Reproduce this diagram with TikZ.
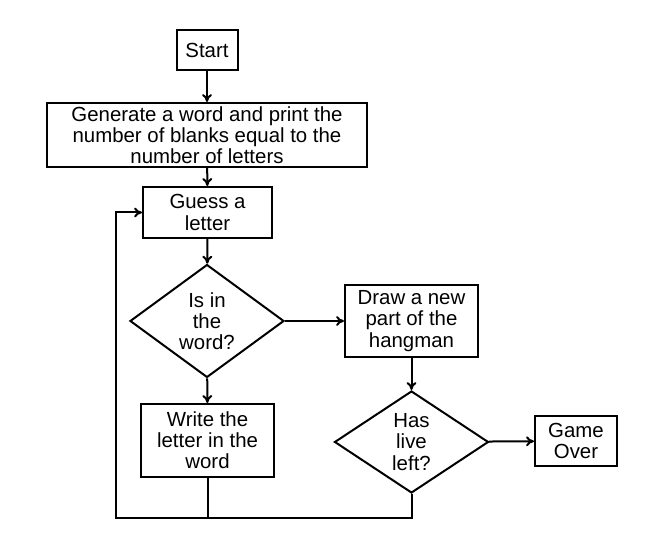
\documentclass[tikz,border=0pt]{standalone}
\usepackage{fontspec}
\setmainfont{Liberation Sans}
\usetikzlibrary{shapes.geometric,arrows.meta}

\begin{document}
\begin{tikzpicture}[x=0.5pt,y=-0.5pt,
  font=\fontsize{10.2}{10.6}\selectfont,
  box/.style={draw,line width=1pt,align=center,inner sep=0pt},
  decision/.style={draw,diamond,line width=1pt,align=center,inner sep=0pt,
    minimum width=77pt,minimum height=51pt},
  link/.style={line width=1pt,-{To[length=4pt,width=5pt]}}]
\useasboundingbox (0,0) rectangle (666,549);
% boxes
\node (start) [box,minimum width=30.5pt,minimum height=20pt] at (207,50) {Start};
\node (generate) [box,minimum width=160pt,minimum height=32pt] at (207,135)
  {Generate a word and print the\\number of blanks equal to the\\number of letters};
\node (guess) [box,minimum width=64.5pt,minimum height=25.5pt] at (207.5,212.5) {Guess a\\letter};
\node (inword) [decision] at (207,321) {Is in\\the\\word?};
\node (write) [box,minimum width=66.5pt,minimum height=36.5pt] at (207.5,440.5)
  {Write the\\letter in the\\word};
\node (hang) [box,minimum width=66.5pt,minimum height=36pt] at (411.5,321)
  {Draw a new\\part of the\\hangman};
\node (lives) [decision] at (411.5,442) {Has\\live\\left?};
\node (over) [box,minimum width=41pt,minimum height=25pt] at (576,441) {Game\\Over};
\coordinate (loop) at (116,518);
% connectors
\draw [link] (start) -- (generate);
\draw [link] (generate) -- (guess);
\draw [link] (guess) -- (inword);
\draw [link] (inword) -- (write);
\draw [link] (inword) -- (hang);
\draw [link] (hang) -- (lives);
\draw [link] (lives) -- (over);
\draw [line width=1pt] (write.south) -- (write.south |- loop);
\draw [link] (lives.south) |- (loop) |- (guess.west);
\end{tikzpicture}
\end{document}
